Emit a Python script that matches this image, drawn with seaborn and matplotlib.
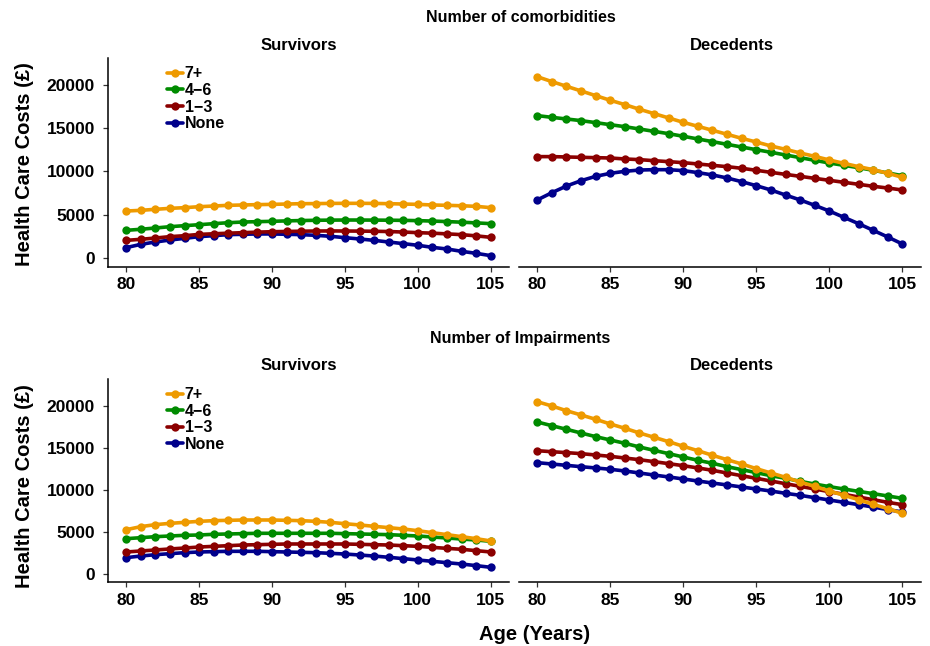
import pandas as pd
import numpy as np
import seaborn as sns
import matplotlib.pyplot as plt

# ages on the x axis
age = list(range(80, 106))
groups = ["7+", "4\u22126", "1\u22123", "None"]
colors = {"7+": "#EE9A00", "4\u22126": "#008B00", "1\u22123": "#8B0000", "None": "#00008B"}

# Number of comorbidities - survivors
com_surv_7 = [5430, 5510, 5630, 5740, 5820, 5930, 6010, 6090, 6130, 6170, 6200, 6240, 6280,
              6290, 6310, 6320, 6320, 6310, 6280, 6240, 6200, 6130, 6090, 6040, 5970, 5820]
com_surv_46 = [3200, 3320, 3470, 3620, 3740, 3850, 3970, 4080, 4160, 4200, 4240, 4290, 4330,
               4360, 4380, 4390, 4390, 4380, 4370, 4350, 4320, 4270, 4210, 4140, 4060, 3970]
com_surv_13 = [2040, 2160, 2310, 2470, 2580, 2730, 2800, 2870, 2930, 2990, 3040, 3070, 3100,
               3120, 3130, 3120, 3110, 3090, 3060, 3000, 2930, 2870, 2790, 2700, 2560, 2390]
com_surv_0 = [1200, 1580, 1850, 2080, 2270, 2470, 2580, 2700, 2740, 2780, 2780, 2740, 2700,
              2620, 2510, 2350, 2200, 2040, 1850, 1660, 1470, 1230, 1040, 770, 540, 270]

# Number of comorbidities - decedents
com_dec_7 = [20960, 20390, 19850, 19310, 18770, 18230, 17730, 17190, 16690, 16190, 15680, 15220, 14760,
             14300, 13830, 13410, 12950, 12560, 12140, 11750, 11330, 10940, 10560, 10210, 9790, 9330]
com_dec_46 = [16460, 16260, 16070, 15880, 15650, 15410, 15180, 14910, 14640, 14370, 14070, 13760, 13450,
              13140, 12830, 12520, 12220, 11910, 11600, 11290, 10980, 10710, 10440, 10140, 9830, 9520]
com_dec_13 = [11720, 11720, 11680, 11640, 11600, 11560, 11450, 11370, 11250, 11140, 11020, 10870, 10710,
              10560, 10370, 10140, 9900, 9670, 9440, 9210, 8980, 8750, 8520, 8290, 8090, 7860]
com_dec_0 = [6710, 7550, 8320, 8940, 9440, 9790, 10020, 10170, 10210, 10210, 10100, 9870, 9600,
             9250, 8820, 8360, 7860, 7280, 6710, 6090, 5430, 4700, 3970, 3200, 2430, 1620]

# Number of impairments - survivors
imp_surv_7 = [5300, 5660, 5900, 6050, 6170, 6290, 6370, 6410, 6450, 6450, 6450, 6410, 6370,
              6290, 6170, 6010, 5860, 5700, 5540, 5380, 5180, 4940, 4710, 4470, 4230, 3960]
imp_surv_46 = [4230, 4350, 4470, 4550, 4630, 4670, 4750, 4790, 4830, 4870, 4870, 4870, 4870,
               4870, 4870, 4830, 4790, 4750, 4710, 4630, 4550, 4430, 4310, 4190, 4070, 3920]
imp_surv_13 = [2650, 2770, 2890, 3010, 3120, 3240, 3320, 3400, 3480, 3520, 3560, 3600, 3600,
               3600, 3600, 3600, 3560, 3520, 3480, 3400, 3320, 3200, 3080, 2970, 2810, 2650]
imp_surv_0 = [1980, 2170, 2330, 2450, 2570, 2650, 2690, 2730, 2730, 2730, 2690, 2650, 2610,
              2570, 2490, 2410, 2290, 2170, 2020, 1860, 1700, 1540, 1380, 1220, 1030, 830]

# Number of impairments - decedents
imp_dec_7 = [20500, 19990, 19430, 18920, 18410, 17850, 17340, 16780, 16270, 15750, 15200, 14680, 14130,
             13610, 13100, 12550, 12030, 11520, 10960, 10450, 9890, 9380, 8860, 8310, 7800, 7240]
imp_dec_46 = [18090, 17650, 17220, 16780, 16350, 15950, 15560, 15120, 14720, 14330, 13930, 13540, 13180,
              12780, 12430, 12070, 11710, 11400, 11040, 10720, 10410, 10130, 9850, 9580, 9300, 9020]
imp_dec_13 = [14680, 14560, 14450, 14330, 14170, 14010, 13810, 13610, 13380, 13140, 12900, 12630, 12350,
              12030, 11710, 11400, 11080, 10760, 10450, 10130, 9810, 9500, 9180, 8860, 8550, 8270]
imp_dec_0 = [13260, 13100, 12940, 12780, 12630, 12470, 12270, 12030, 11790, 11560, 11320, 11080, 10840,
             10610, 10370, 10130, 9890, 9620, 9380, 9100, 8820, 8550, 8270, 7990, 7680, 7400]


def make_df(s7, s46, s13, s0):
    rows = []
    for g, vals in zip(groups, [s7, s46, s13, s0]):
        for a, v in zip(age, vals):
            rows.append({"age": a, "cost": v, "group": g})
    return pd.DataFrame(rows)


panels = [
    (make_df(com_surv_7, com_surv_46, com_surv_13, com_surv_0), True),
    (make_df(com_dec_7, com_dec_46, com_dec_13, com_dec_0), False),
    (make_df(imp_surv_7, imp_surv_46, imp_surv_13, imp_surv_0), True),
    (make_df(imp_dec_7, imp_dec_46, imp_dec_13, imp_dec_0), False),
]

sns.set_style("ticks")
plt.rcParams["font.family"] = ["Liberation Sans", "DejaVu Sans"]
plt.rcParams["font.weight"] = "bold"
plt.rcParams["text.color"] = "black"
plt.rcParams["axes.labelcolor"] = "black"
plt.rcParams["axes.edgecolor"] = "black"

fig = plt.figure(figsize=(9.3, 6.46), dpi=100)
W, H = 930, 646
# axes boxes in pixels: left, right, top, bottom
boxes = [(108, 509, 58, 267), (519, 920.6, 58, 267),
         (108, 509, 379, 582.3), (519, 920.6, 379, 582.3)]
ylims = [(-1040, 23120), (-1040, 23120), (-950, 23195), (-950, 23195)]

draw_order = groups[::-1]  # draw None first so 7+ ends up on top

for (df, is_left), (l, r, t, b), yl in zip(panels, boxes, ylims):
    ax = fig.add_axes([l / W, 1 - b / H, (r - l) / W, (b - t) / H])
    sns.lineplot(data=df, x="age", y="cost", hue="group", hue_order=draw_order,
                 palette=colors, marker="o", markersize=6, markeredgewidth=0,
                 linewidth=2.6, legend=is_left, ax=ax)
    ax.set_xlim(78.75, 106.25)
    ax.set_ylim(*yl)
    ax.set_xticks([80, 85, 90, 95, 100, 105])
    ax.set_xlabel("")
    ax.set_ylabel("")
    ax.tick_params(axis="both", length=3.5, width=0.9, color="#333333",
                   labelsize=12.5, labelcolor="black")
    ax.tick_params(axis="x", pad=4)
    ax.tick_params(axis="y", pad=6)
    for lab in ax.get_xticklabels() + ax.get_yticklabels():
        lab.set_fontweight("bold")
    ax.spines["top"].set_visible(False)
    ax.spines["right"].set_visible(False)
    ax.spines["bottom"].set_linewidth(1.1)
    ax.spines["left"].set_linewidth(1.1)
    if is_left:
        ax.set_yticks([0, 5000, 10000, 15000, 20000])
        h, lbl = ax.get_legend_handles_labels()
        leg = ax.legend(h[::-1], lbl[::-1], loc="upper left", bbox_to_anchor=(0.147, 0.96),
                        frameon=False, handlelength=1.0, handletextpad=0.1, labelspacing=0.1,
                        borderpad=0, borderaxespad=0, prop={"weight": "bold", "size": 11.5})
        for txt in leg.get_texts():
            txt.set_color("black")
    else:
        ax.spines["left"].set_visible(False)
        ax.set_yticks([])

# titles
fig.text(521 / W, 1 - 18 / H, "Number of comorbidities", ha="center", va="center",
         fontsize=11.5, fontweight="bold")
fig.text(520 / W, 1 - 338 / H, "Number of Impairments", ha="center", va="center",
         fontsize=11.5, fontweight="bold")
for yy in [45, 366]:
    fig.text(299 / W, 1 - yy / H, "Survivors", ha="center", va="center",
             fontsize=12, fontweight="bold")
    fig.text(732 / W, 1 - yy / H, "Decedents", ha="center", va="center",
             fontsize=12, fontweight="bold")

fig.text(25 / W, 1 - 164 / H, "Health Care Costs (\u00a3)", rotation=90, ha="center",
         va="center", fontsize=14.5, fontweight="bold")
fig.text(25 / W, 1 - 486 / H, "Health Care Costs (\u00a3)", rotation=90, ha="center",
         va="center", fontsize=14.5, fontweight="bold")
fig.text(535 / W, 1 - 634 / H, "Age (Years)", ha="center", va="center",
         fontsize=14.5, fontweight="bold")

fig.savefig("out.png", dpi=100)
